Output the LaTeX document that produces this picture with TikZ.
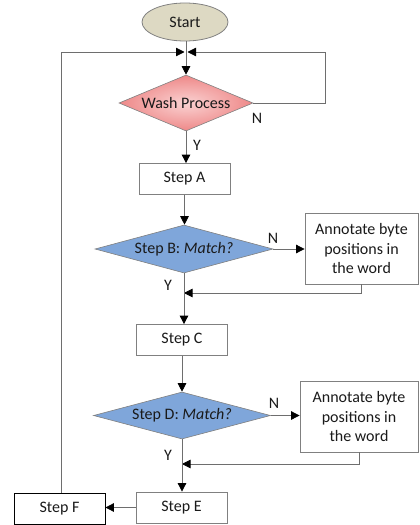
\documentclass[tikz,border=0pt]{standalone}
\usepackage{fontspec}
\setmainfont{Carlito}
\usetikzlibrary{shapes.geometric,arrows.meta}
\definecolor{linegray}{HTML}{6E6E6E}
\definecolor{boxgray}{HTML}{808080}
\definecolor{startfill}{HTML}{DDD9C3}
\definecolor{washin}{HTML}{FAD2D2}
\definecolor{washout}{HTML}{EE8888}
\definecolor{bluefill}{HTML}{7FA6DA}
\definecolor{textdark}{HTML}{1A1A1A}
\begin{document}
\begin{tikzpicture}[x=1pt,y=-1pt,
  every node/.style={font=\fontsize{16}{19.5}\selectfont, text=textdark, inner sep=0pt},
  stepbox/.style={draw=boxgray, line width=0.8pt, fill=white, minimum width=91pt, minimum height=31pt},
  notebox/.style={draw=boxgray, line width=0.8pt, fill=white, minimum height=71pt, align=center},
  decision/.style={diamond, draw=boxgray, line width=0.6pt},
  conn/.style={draw=linegray, line width=0.8pt},
  arr/.style={conn, -{Triangle[length=8.5pt,width=8.5pt,black]}}]
\useasboundingbox (0,0) rectangle (420,525);
% nodes
\node[ellipse, draw=boxgray, line width=0.8pt, fill=startfill, minimum width=86pt, minimum height=38pt] (start) at (185,22) {Start};
\coordinate (m) at (186,52);
\node[decision, shade, inner color=washin, outer color=washout, shape aspect=2.4, minimum width=134pt, minimum height=56pt] (wash) at (186,103) {Wash Process};
\node[stepbox] (A) at (184.5,179) {Step A};
\node[decision, fill=bluefill, shape aspect=3.7, minimum width=178pt, minimum height=48pt] (B) at (184,249) {Step B: \textit{Match?}};
\node[notebox, minimum width=113pt] (n1) at (361.5,248.5) {Annotate byte\\positions in\\the word};
\coordinate (j1) at (184,293);
\node[stepbox] (C) at (182,340) {Step C};
\node[decision, fill=bluefill, shape aspect=3.7, minimum width=177pt, minimum height=47pt] (D) at (182,415.5) {Step D: \textit{Match?}};
\node[notebox, minimum width=118pt] (n2) at (359,416.5) {Annotate byte\\positions in\\the word};
\coordinate (j2) at (182,464);
\node[stepbox] (E) at (181.5,507.5) {Step E};
\node[stepbox, draw=black] (F) at (59.5,508.5) {Step F};
% labels
\node (nW) at (257,118) {N};
\node (yW) at (197,145) {Y};
\node (nB) at (273,238) {N};
\node (yB) at (168,285) {Y};
\node (nD) at (274,403) {N};
\node (yD) at (168,455) {Y};
% connectors
\draw[arr] (start.south -| wash.north) -- (wash.north);
\draw[arr] (wash.east) -- ++(72,0) |- ([xshift=1.5pt]m);
\draw[arr] ([xshift=2pt]F.north) |- ([xshift=-1.5pt]m);
\draw[arr] (wash.south) -- (wash.south |- A.north);
\draw[arr] (A.south) -- (A.south |- B.north);
\draw[arr] (B.east) -- (B.east -| n1.west);
\draw[arr] (n1.south) |- (j1);
\draw[arr] (B.south) -- (B.south |- C.north);
\draw[arr] (C.south) -- (C.south |- D.north);
\draw[arr] (D.east) -- (D.east -| n2.west);
\draw[arr] (n2.south) |- (j2);
\draw[arr] (D.south) -- (D.south |- E.north);
\draw[arr] (E.west) -- (E.west -| F.east);
\end{tikzpicture}
\end{document}
